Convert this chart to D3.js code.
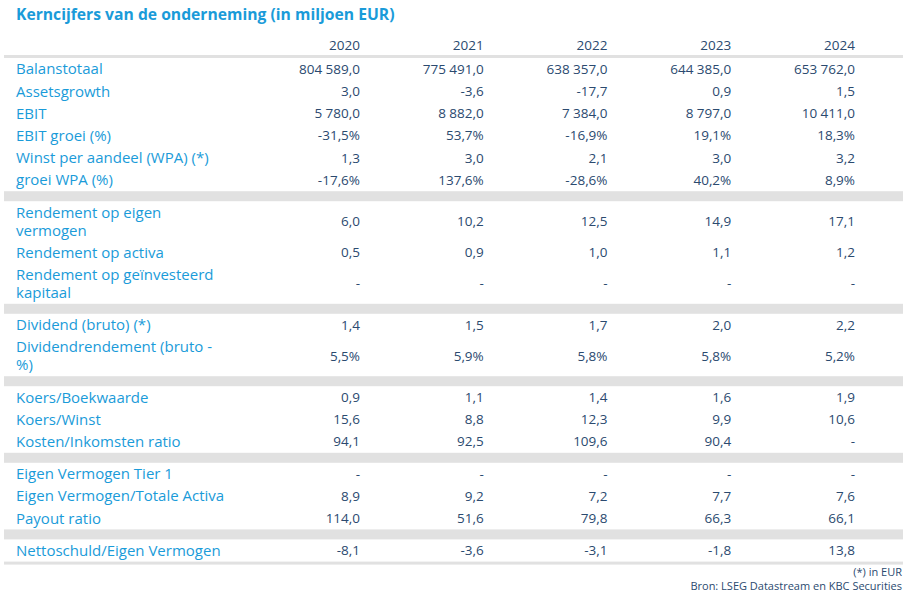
<!DOCTYPE html>
<html lang="nl">
<head>
    <meta charset="UTF-8">
    <title>Kerncijfers van de onderneming</title>
    <style>
        body { margin: 0; padding: 0; background: #ffffff; }
        svg { display: block; font-family: "Open Sans", "Noto Sans", sans-serif; }
    </style>
</head>
<body>
    <div id="chart"></div>
    <script src="https://d3js.org/d3.v7.min.js"></script>
    <script>
        // Column headers
        const years = ['2020', '2021', '2022', '2023', '2024'];

        // Row labels per group (multi-line labels split as they wrap in the source)
        const groupLabels = [
            [['Balanstotaal'], ['Assetsgrowth'], ['EBIT'], ['EBIT groei (%)'],
             ['Winst per aandeel (WPA) (*)'], ['groei WPA (%)']],
            [['Rendement op eigen', 'vermogen'], ['Rendement op activa'],
             ['Rendement op geïnvesteerd', 'kapitaal']],
            [['Dividend (bruto) (*)'], ['Dividendrendement (bruto -', '%)']],
            [['Koers/Boekwaarde'], ['Koers/Winst'], ['Kosten/Inkomsten ratio']],
            [['Eigen Vermogen Tier 1'], ['Eigen Vermogen/Totale Activa'], ['Payout ratio']],
            [['Nettoschuld/Eigen Vermogen']]
        ];

        // Values per group, one array per row, in year order
        const groupValues = [
            [['804 589,0', '775 491,0', '638 357,0', '644 385,0', '653 762,0'],
             ['3,0', '-3,6', '-17,7', '0,9', '1,5'],
             ['5 780,0', '8 882,0', '7 384,0', '8 797,0', '10 411,0'],
             ['-31,5%', '53,7%', '-16,9%', '19,1%', '18,3%'],
             ['1,3', '3,0', '2,1', '3,0', '3,2'],
             ['-17,6%', '137,6%', '-28,6%', '40,2%', '8,9%']],
            [['6,0', '10,2', '12,5', '14,9', '17,1'],
             ['0,5', '0,9', '1,0', '1,1', '1,2'],
             ['-', '-', '-', '-', '-']],
            [['1,4', '1,5', '1,7', '2,0', '2,2'],
             ['5,5%', '5,9%', '5,8%', '5,8%', '5,2%']],
            [['0,9', '1,1', '1,4', '1,6', '1,9'],
             ['15,6', '8,8', '12,3', '9,9', '10,6'],
             ['94,1', '92,5', '109,6', '90,4', '-']],
            [['-', '-', '-', '-', '-'],
             ['8,9', '9,2', '7,2', '7,7', '7,6'],
             ['114,0', '51,6', '79,8', '66,3', '66,1']],
            [['-8,1', '-3,6', '-3,1', '-1,8', '13,8']]
        ];

        const title = 'Kerncijfers van de onderneming (in miljoen EUR)';
        const footnotes = ['(*) in EUR', 'Bron: LSEG Datastream en KBC Securities'];

        const width = 917, height = 605;
        const blue = '#1a9bd9', navy = '#2b4a6f', grey = '#e1e1e1';
        const tableLeft = 4, tableRight = 903;
        const labelX = 16;
        const rowH = 22.2, lineH = 18, bandH = 10;
        const headerLineY = 55;

        const svg = d3.select('#chart').append('svg')
            .attr('width', width)
            .attr('height', height);

        // Columns: right edge of each year column
        const x = d3.scalePoint()
            .domain(years)
            .range([360, 855]);

        // Build row layout (y positions) from the data
        const rows = [];
        const bands = [];
        let cursor = headerLineY + 3;
        groupLabels.forEach((labels, gi) => {
            labels.forEach((lines, ri) => {
                const h = lines.length > 1 ? rowH + lineH : rowH;
                rows.push({ lines, values: groupValues[gi][ri], top: cursor, h });
                cursor += h;
            });
            if (gi < groupLabels.length - 1) {
                bands.push({ top: cursor, h: bandH });
                cursor += bandH;
            }
        });
        const tableBottom = cursor;

        // Title
        svg.append('text')
            .attr('x', labelX)
            .attr('y', 20)
            .attr('fill', blue)
            .attr('font-size', 15.7)
            .attr('font-weight', 'bold')
            .text(title);

        // Header
        svg.append('g').selectAll('text')
            .data(years)
            .join('text')
            .attr('x', d => x(d))
            .attr('y', 45)
            .attr('dy', '0.35em')
            .attr('text-anchor', 'end')
            .attr('fill', navy)
            .attr('font-size', 13.5)
            .text(d => d);

        svg.append('rect')
            .attr('x', tableLeft)
            .attr('y', headerLineY)
            .attr('width', tableRight - tableLeft)
            .attr('height', 3)
            .attr('fill', grey);

        // Group separator bands
        svg.append('g').selectAll('rect')
            .data(bands)
            .join('rect')
            .attr('x', tableLeft)
            .attr('y', d => d.top)
            .attr('width', tableRight - tableLeft)
            .attr('height', d => d.h)
            .attr('fill', grey);

        svg.append('rect')
            .attr('x', tableLeft)
            .attr('y', tableBottom)
            .attr('width', tableRight - tableLeft)
            .attr('height', 3)
            .attr('fill', grey);

        // Rows
        const rowG = svg.append('g').selectAll('g')
            .data(rows)
            .join('g')
            .attr('transform', d => `translate(0,${d.top + d.h / 2})`);

        rowG.append('text')
            .attr('x', labelX)
            .attr('fill', blue)
            .attr('font-size', 15)
            .selectAll('tspan')
            .data(d => d.lines.map((t, i) => ({ t, i, n: d.lines.length })))
            .join('tspan')
            .attr('x', labelX)
            .attr('y', d => (d.i - (d.n - 1) / 2) * lineH)
            .attr('dy', '0.35em')
            .text(d => d.t);

        rowG.selectAll('.val')
            .data(d => d.values.map((v, i) => ({ v, year: years[i] })))
            .join('text')
            .attr('class', 'val')
            .attr('x', d => x(d.year))
            .attr('dy', '0.35em')
            .attr('text-anchor', 'end')
            .attr('fill', navy)
            .attr('font-size', 13.5)
            .text(d => d.v);

        // Footnotes
        svg.append('g').selectAll('text')
            .data(footnotes)
            .join('text')
            .attr('x', 902)
            .attr('y', (d, i) => 572 + i * 14.5)
            .attr('dy', '0.35em')
            .attr('text-anchor', 'end')
            .attr('fill', navy)
            .attr('font-size', 11)
            .text(d => d);
    </script>
</body>
</html>
